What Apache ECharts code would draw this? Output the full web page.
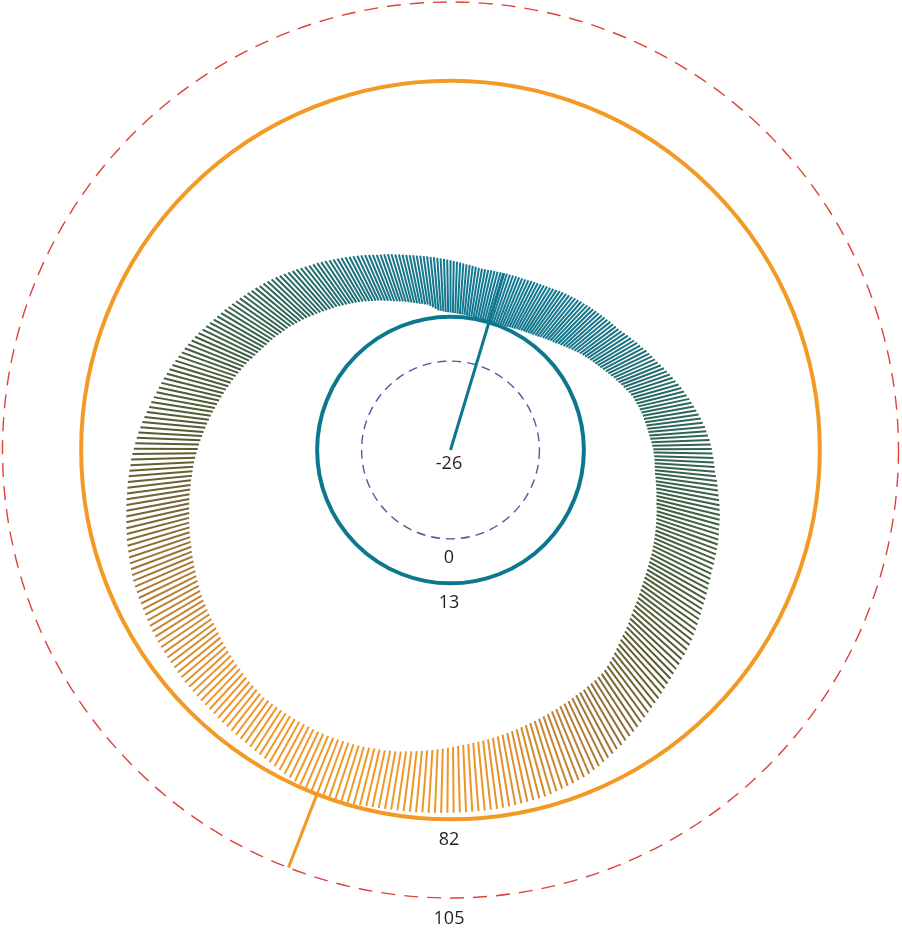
<!DOCTYPE html>
<html>
<head>
<meta charset="utf-8">
<script src="https://cdn.jsdelivr.net/npm/echarts@6/dist/echarts.min.js"></script>
<style>
html,body{margin:0;padding:0;background:#ffffff;}
#chart{width:902px;height:931px;}
</style>
</head>
<body>
<div id="chart"></div>
<script>
// Daily low values (one per day of the year, day 0 at the top, clockwise)
const lows = [
14.2,14.1,14.0,13.9,13.8,13.8,13.7,
13.6,13.5,13.5,13.4,13.3,13.3,13.2,13.2,13.1,13.1,
13.0,
13.1,13.1,13.2,13.3,13.4,13.5,13.5,
13.6,13.8,14.0,14.1,14.3,14.4,14.6,14.8,14.9,15.1,15.3,
15.4,15.7,15.9,16.2,16.5,16.7,17.0,17.3,17.5,
17.8,18.2,18.5,18.9,19.3,19.6,20.0,
20.4,20.8,21.2,21.6,21.9,22.3,22.6,23.0,
23.3,23.7,24.0,24.4,24.9,25.3,25.7,26.2,
26.6,27.0,27.5,27.9,28.3,28.8,29.2,29.6,
29.8,30.1,30.4,30.6,30.9,31.1,31.3,31.5,
31.7,31.9,32.1,32.3,32.5,32.8,33.0,
33.3,33.4,33.6,33.7,33.8,33.9,34.1,
34.2,34.5,34.7,35.0,35.2,35.5,35.7,36.0,36.2,
36.6,36.9,37.2,37.5,37.8,38.1,38.4,38.7,39.0,
39.3,39.6,39.9,40.2,40.4,40.7,41.0,41.3,
41.6,41.9,42.3,42.6,43.0,43.4,43.8,44.2,44.6,
45.0,45.5,46.0,46.6,47.1,47.6,48.0,
48.5,49.1,49.7,50.3,50.9,51.5,52.1,52.6,
53.0,53.2,53.5,53.7,53.9,54.2,54.4,54.6,54.8,55.1,
55.3,55.5,55.8,56.0,56.3,56.5,56.7,57.0,
57.2,57.4,57.7,57.9,58.2,58.4,58.6,
58.9,59.1,59.3,59.5,59.7,59.9,60.1,
60.3,60.6,60.8,61.1,61.4,61.6,
61.9,62.1,62.4,62.6,62.9,63.1,63.4,
63.6,63.7,63.9,64.0,64.1,64.3,
64.4,64.5,64.6,64.6,64.7,64.8,64.8,
64.9,64.9,65.0,65.0,64.9,64.9,64.9,
64.9,64.9,64.8,64.8,64.7,64.7,64.6,
64.6,64.4,64.1,63.9,63.7,63.5,63.1,
62.8,62.6,62.3,
62.0,61.7,61.4,61.1,60.8,60.4,60.1,
59.8,59.6,59.3,59.1,58.8,58.6,58.3,
58.0,57.7,57.3,57.0,56.6,56.3,55.9,55.6,55.3,54.9,
54.6,54.3,54.0,53.6,53.3,53.0,52.6,52.3,
52.0,51.7,51.4,51.0,50.7,50.4,50.0,49.7,
49.4,49.1,48.7,48.3,47.9,47.6,
47.2,46.8,46.4,46.0,45.6,45.2,44.8,44.4,
44.0,43.6,43.2,42.8,42.4,42.0,41.6,41.2,40.8,
40.4,40.0,39.6,39.2,38.8,38.4,37.9,37.5,37.1,
36.7,36.4,36.0,35.7,35.3,35.0,34.6,34.2,33.8,33.5,33.1,
32.7,32.3,31.9,31.5,31.1,30.7,30.2,29.8,29.4,29.0,
28.6,28.2,27.8,27.5,27.1,26.7,26.3,25.9,25.6,25.2,
24.8,24.4,24.0,23.6,23.2,22.8,22.5,22.1,21.7,21.3,20.9,
20.5,20.2,19.9,19.6,19.3,18.9,18.6,18.3,
18.0,17.7,17.5,17.2,
17.0,16.5,16.0,15.5,
15.0,14.8,14.6,14.4,14.3
];

// Daily high values
const highs = [
29.5,29.3,29.1,28.9,28.7,
28.5,28.4,28.2,28.1,27.9,
27.8,27.8,27.8,27.9,27.9,27.9,28.0,
28.0,28.1,28.1,28.2,28.3,28.3,28.4,
28.5,28.6,28.8,28.9,29.0,29.2,
29.3,29.5,29.7,29.9,30.1,30.4,30.6,30.8,
31.0,31.2,31.4,31.6,31.8,32.0,32.2,32.4,32.6,
32.8,33.0,33.2,33.4,33.6,33.9,34.1,34.3,
34.5,34.9,35.3,35.7,36.1,36.5,36.9,
37.3,37.7,38.2,38.6,39.0,39.4,39.8,40.3,
40.8,41.3,41.8,42.3,42.8,43.4,43.9,
44.4,44.9,45.4,45.8,46.3,46.8,47.3,
47.8,48.2,48.7,49.0,49.4,49.8,50.1,
50.4,50.6,50.9,51.1,51.4,
51.6,52.0,52.4,52.8,53.1,53.5,53.9,
54.3,54.6,55.0,55.3,55.6,55.9,56.3,
56.6,56.9,57.1,57.4,57.6,57.9,58.1,
58.4,58.8,59.1,59.5,59.9,60.3,60.6,
61.0,61.5,61.9,62.4,62.9,63.3,
63.8,64.2,64.5,64.9,65.2,65.6,65.9,
66.3,66.8,67.2,67.7,68.2,68.7,69.1,
69.6,70.1,70.6,71.1,71.7,72.2,72.7,
73.2,73.7,74.1,74.6,75.1,75.6,76.1,76.5,
77.0,77.3,77.5,77.8,78.0,78.3,78.5,78.8,
79.0,79.1,79.2,79.3,79.4,79.5,79.6,79.7,
79.8,79.8,79.9,79.9,80.0,80.0,
80.0,80.1,80.1,80.2,80.2,80.3,80.3,80.4,80.4,80.5,
80.5,80.6,80.7,80.8,80.9,81.0,81.2,
81.3,81.4,81.5,81.7,81.8,81.9,
82.0,
81.8,81.5,81.3,
81.0,80.7,80.4,80.1,79.8,
79.5,79.3,79.1,78.9,78.7,
78.5,78.4,78.3,78.1,78.0,77.9,77.8,77.6,
77.5,77.4,77.4,77.3,77.2,77.1,77.1,
77.0,76.9,76.8,76.7,76.6,76.5,76.4,
76.3,76.1,76.0,75.8,75.6,75.4,
75.2,75.0,74.9,74.7,74.5,74.3,
74.0,73.7,73.4,73.1,72.8,72.5,72.2,71.8,71.5,71.1,
70.8,70.4,70.1,69.8,69.4,69.1,68.8,68.4,
68.1,67.7,67.4,67.0,66.6,66.2,
65.8,65.4,64.9,64.5,64.0,63.5,63.0,62.6,62.1,
61.6,61.2,60.8,60.4,59.9,59.5,59.0,58.6,
58.1,57.6,57.2,56.7,56.2,55.7,55.2,54.6,54.1,
53.5,53.0,52.6,52.1,51.7,51.2,50.8,50.3,49.9,
49.4,49.0,48.5,48.1,47.6,47.2,46.7,46.3,
45.8,45.3,44.8,44.3,43.8,43.4,42.9,42.4,
41.9,41.5,41.1,40.7,40.3,39.8,39.4,39.0,38.6,
38.2,37.8,37.4,37.0,36.6,36.2,35.8,35.4,
35.0,34.7,34.4,34.1,33.8,33.4,33.1,32.8,32.5,
32.2,32.0,31.7,31.5,31.2,
31.0,30.8,30.6,30.3,30.1,29.9,29.7
];

// Reference rings and their labels
const ringValues = [-26, 0, 13, 82, 105];
const ringLabels = ['-26', '0', '13', '82', '105'];
// Marked days (coldest low, hottest high)
const minDay = 17;
const maxDay = 204;
const scaleMin = -26;
const scaleMax = 105;

// ---- styles ----
const TEAL = '#0d778f';
const ORANGE = '#f39a26';
const ringStyles = [
  { stroke: null, width: 0, dash: null, gap: 14 },
  { stroke: '#55579e', width: 1.4, dash: [9, 6], gap: 19 },
  { stroke: TEAL, width: 4, dash: null, gap: 20 },
  { stroke: ORANGE, width: 4, dash: null, gap: 21 },
  { stroke: '#e0413a', width: 1.4, dash: [14, 9], gap: 21 }
];
const colorStops = [
  [20, [16, 122, 147]],
  [30, [28, 114, 128]],
  [40, [46, 102, 88]],
  [47, [66, 96, 64]],
  [57, [88, 92, 46]],
  [62, [122, 104, 52]],
  [66, [180, 127, 54]],
  [70, [236, 150, 42]],
  [75, [243, 154, 38]]
];
function tempColor(t) {
  if (t <= colorStops[0][0]) return 'rgb(' + colorStops[0][1].join(',') + ')';
  for (let i = 1; i < colorStops.length; i++) {
    if (t <= colorStops[i][0]) {
      const a = colorStops[i - 1], b = colorStops[i];
      const f = (t - a[0]) / (b[0] - a[0]);
      const c = a[1].map((v, k) => Math.round(v + (b[1][k] - v) * f));
      return 'rgb(' + c.join(',') + ')';
    }
  }
  return 'rgb(' + colorStops[colorStops.length - 1][1].join(',') + ')';
}

const dayData = lows.map((lo, i) => [i, lo, highs[i]]);
const markerData = [
  [minDay, scaleMin, highs[minDay]],
  [maxDay, highs[maxDay], scaleMax]
];
const markerColors = [TEAL, ORANGE];

const chart = echarts.init(document.getElementById('chart'), null, { renderer: 'canvas' });
const hiddenAxis = {
  axisLine: { show: false }, axisTick: { show: false },
  axisLabel: { show: false }, splitLine: { show: false }, splitArea: { show: false }
};
chart.setOption({
  animation: false,
  backgroundColor: '#ffffff',
  polar: { center: [450.5, 450], radius: [0, 448] },
  angleAxis: Object.assign({ type: 'value', min: 0, max: 365, startAngle: 90, clockwise: true }, hiddenAxis),
  radiusAxis: Object.assign({ type: 'value', min: scaleMin, max: scaleMax }, hiddenAxis),
  series: [
    {
      type: 'custom', coordinateSystem: 'polar', silent: true,
      data: dayData,
      encode: { angle: 0, radius: [1, 2] },
      renderItem: function (params, api) {
        const d = api.value(0), lo = api.value(1), hi = api.value(2);
        const p1 = api.coord([lo, d]);
        const p2 = api.coord([hi, d]);
        return {
          type: 'line',
          shape: { x1: p1[0], y1: p1[1], x2: p2[0], y2: p2[1] },
          style: { stroke: tempColor((lo + hi) / 2), lineWidth: 2 }
        };
      }
    },
    {
      type: 'custom', coordinateSystem: 'polar', silent: true, z: 3,
      data: ringValues.map(v => [v, 0]),
      encode: { radius: 0, angle: 1 },
      renderItem: function (params, api) {
        const v = api.value(0);
        const c = api.coord([scaleMin, 0]);
        const p = api.coord([v, 0]);
        const r = Math.hypot(p[0] - c[0], p[1] - c[1]);
        const st = ringStyles[params.dataIndex];
        const children = [];
        if (st.stroke) {
          children.push({
            type: 'circle', shape: { cx: c[0], cy: c[1], r: r },
            style: { fill: 'none', stroke: st.stroke, lineWidth: st.width, lineDash: st.dash }
          });
        }
        children.push({
          type: 'text', x: c[0] - 1.5, y: c[1] + r + st.gap,
          style: {
            text: ringLabels[params.dataIndex], fill: '#231f20',
            font: '18px "Open Sans", "Noto Sans", sans-serif',
            align: 'center', verticalAlign: 'middle'
          }
        });
        return { type: 'group', children: children };
      }
    },
    {
      type: 'custom', coordinateSystem: 'polar', silent: true, z: 4,
      data: markerData,
      encode: { angle: 0, radius: [1, 2] },
      renderItem: function (params, api) {
        const d = api.value(0);
        const p1 = api.coord([api.value(1), d]);
        const p2 = api.coord([api.value(2), d]);
        return {
          type: 'line',
          shape: { x1: p1[0], y1: p1[1], x2: p2[0], y2: p2[1] },
          style: { stroke: markerColors[params.dataIndex], lineWidth: 3 }
        };
      }
    }
  ]
});
</script>
</body>
</html>
